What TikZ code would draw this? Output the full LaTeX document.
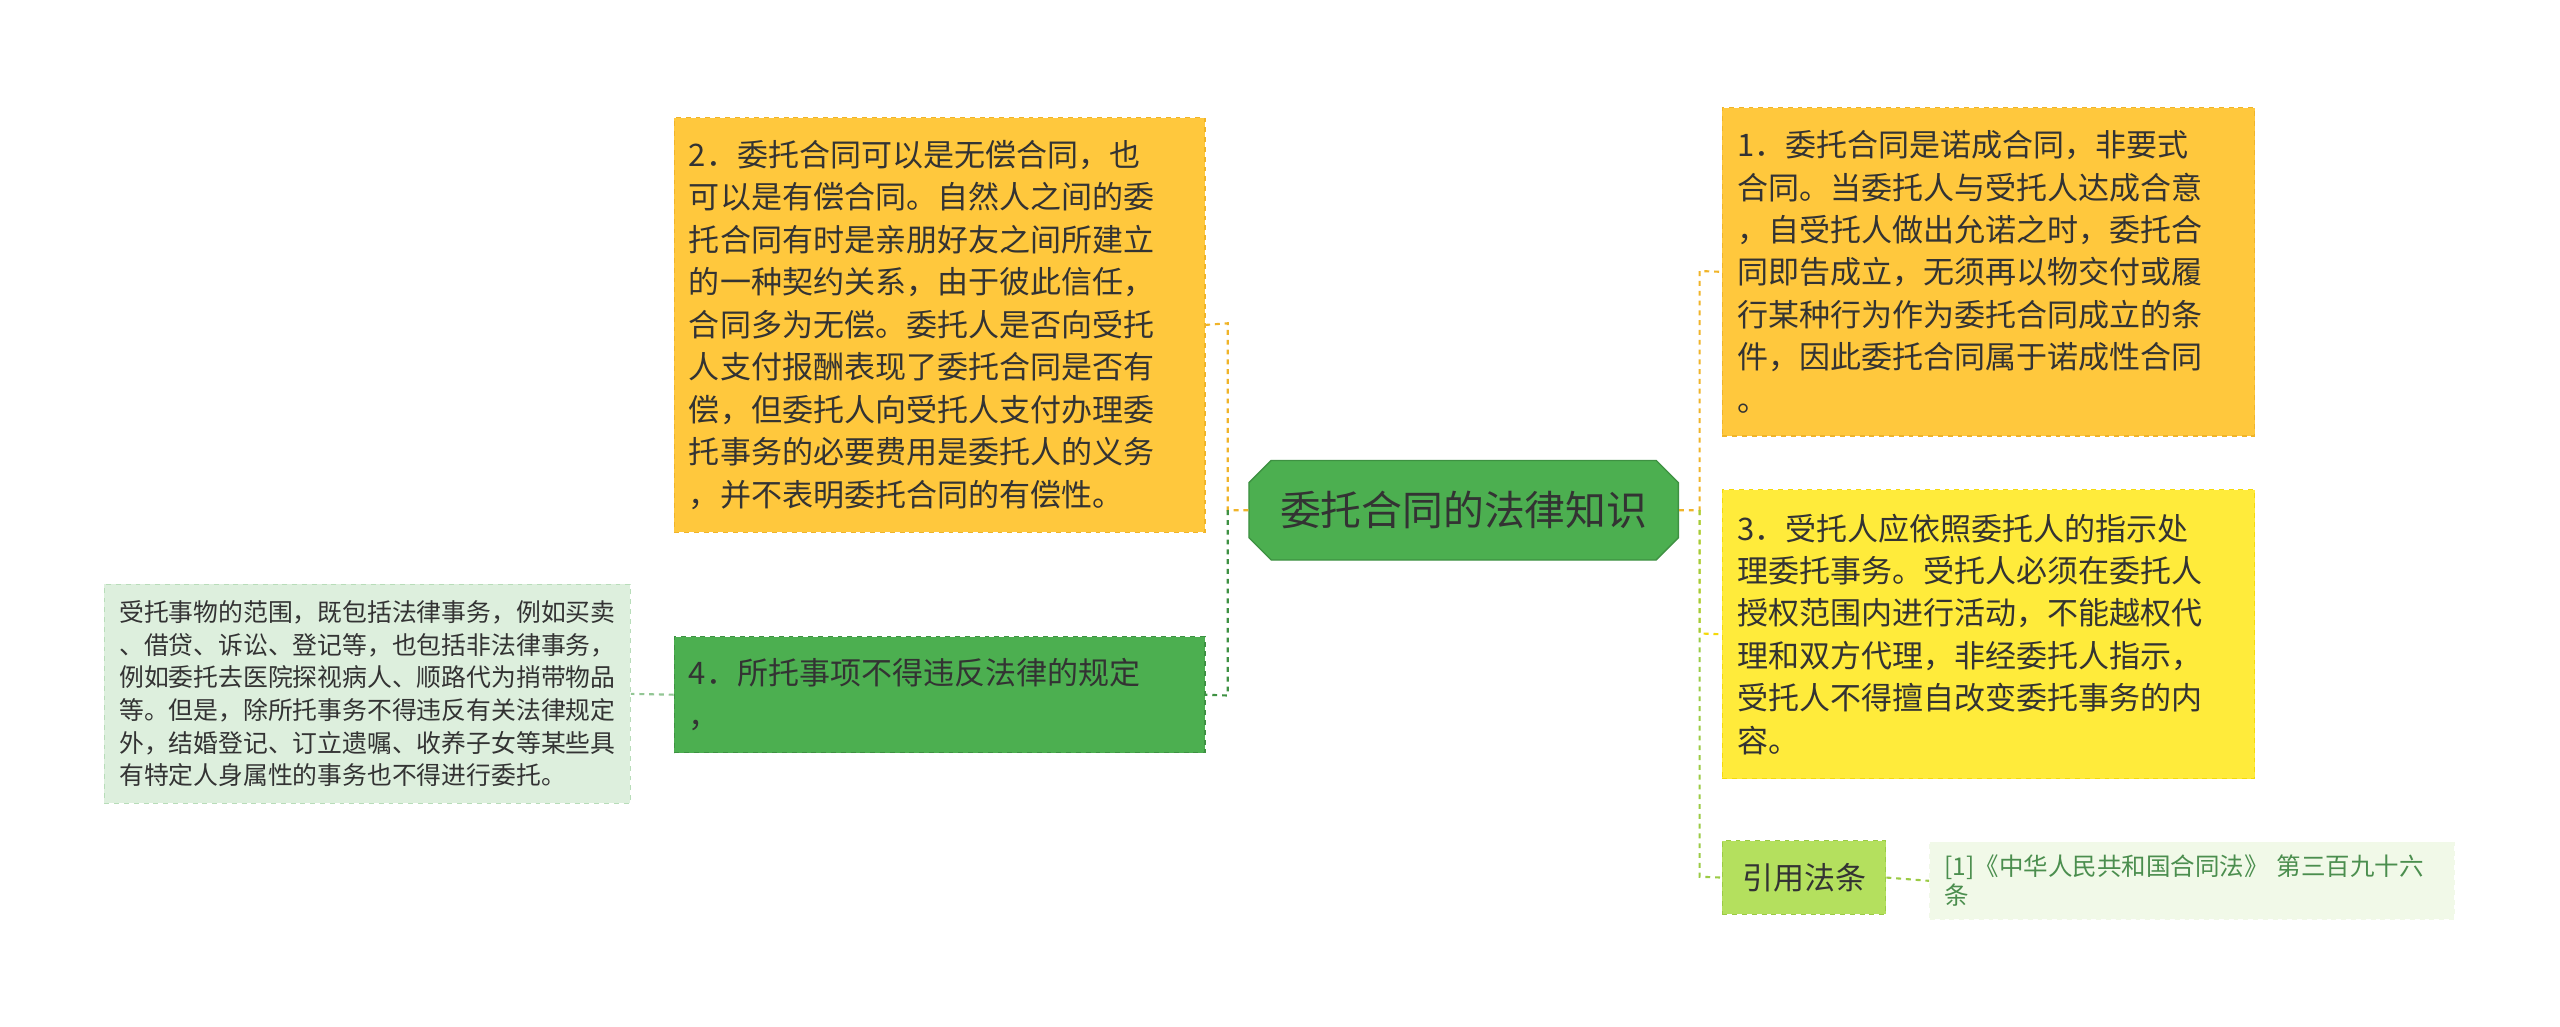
\documentclass[tikz,border=0pt]{standalone}
\usepackage{fontspec}
\setmainfont{Noto Sans CJK SC}
\usetikzlibrary{shapes.misc}
\definecolor{org}{HTML}{FFC83D}
\definecolor{orgd}{HTML}{F0B429}
\definecolor{yel}{HTML}{FFEB3B}
\definecolor{yeld}{HTML}{F5D90A}
\definecolor{grn}{HTML}{4CAF50}
\definecolor{grnd}{HTML}{3E9142}
\definecolor{lg}{HTML}{DDEFDD}
\definecolor{lgd}{HTML}{B8DDB9}
\definecolor{lime}{HTML}{B4E05E}
\definecolor{limed}{HTML}{9BCB45}
\definecolor{pale}{HTML}{F1F9E8}
\definecolor{txt}{HTML}{333333}
\begin{document}
\begin{tikzpicture}[x=1pt,y=-1pt,
 box/.style={draw,dashed,line width=0.8pt,inner xsep=9pt,inner ysep=0pt,text=txt,align=left,anchor=center},
 big/.style={font=\fontsize{19}{26}\selectfont},
 link/.style={dashed,line width=1.3pt}]
\useasboundingbox[fill=white] (0,0) rectangle (1568,629);
\node[box,fill=grn,draw=grnd,solid,chamfered rectangle,chamfered rectangle xsep=10pt,inner xsep=4pt,minimum width=263,minimum height=61,font=\fontsize{25}{28}\selectfont] (c) at (896.5,312.5) {委托合同的法律知识};
\node[box,big,fill=org,draw=orgd,minimum width=325,minimum height=254,text width=307] (n2) at (575.5,199) {2．委托合同可以是无偿合同，也\\可以是有偿合同。自然人之间的委\\托合同有时是亲朋好友之间所建立\\的一种契约关系，由于彼此信任，\\合同多为无偿。委托人是否向受托\\人支付报酬表现了委托合同是否有\\偿，但委托人向受托人支付办理委\\托事务的必要费用是委托人的义务\\，并不表明委托合同的有偿性。};
\node[box,big,fill=grn,draw=grnd,minimum width=325,minimum height=71,text width=307] (n4) at (575.5,425.5) {4．所托事项不得违反法律的规定\\，};
\node[box,fill=lg,draw=lgd,minimum width=320,minimum height=134,text width=304,font=\fontsize{15.2}{20}\selectfont] (d) at (225,425) {受托事物的范围，既包括法律事务，例如买卖\\、借贷、诉讼、登记等，也包括非法律事务，\\例如委托去医院探视病人、顺路代为捎带物品\\等。但是，除所托事务不得违反有关法律规定\\外，结婚登记、订立遗嘱、收养子女等某些具\\有特定人身属性的事务也不得进行委托。};
\node[box,big,fill=org,draw=orgd,minimum width=326,minimum height=201,text width=308] (n1) at (1218,166.5) {1．委托合同是诺成合同，非要式\\合同。当委托人与受托人达成合意\\，自受托人做出允诺之时，委托合\\同即告成立，无须再以物交付或履\\行某种行为作为委托合同成立的条\\件，因此委托合同属于诺成性合同\\。};
\node[box,big,fill=yel,draw=yeld,minimum width=326,minimum height=177,text width=308] (n3) at (1218,388.5) {3．受托人应依照委托人的指示处\\理委托事务。受托人必须在委托人\\授权范围内进行活动，不能越权代\\理和双方代理，非经委托人指示，\\受托人不得擅自改变委托事务的内\\容。};
\node[box,big,fill=lime,draw=limed,minimum width=100,minimum height=45] (ref) at (1105,537.5) {引用法条};
\node[box,fill=pale,draw=pale,minimum width=321,minimum height=47,text width=303,text=grnd!80!gray,font=\fontsize{15}{18}\selectfont] (law) at (1342.5,539.5) {[1]《中华人民共和国合同法》 第三百九十六\\条};
% left connectors
\coordinate (lj) at (752,312.5);
\draw[link,draw=orgd] (c.west) -- (lj) -- (752,198) -- (n2.east);
\draw[link,draw=grnd] (lj) -- (752,426) -- (n4.east);
\draw[link,draw=lgd!70!grnd] (n4.west) -- (d.east);
% right connectors
\coordinate (rj) at (1041,312.5);
\draw[link,draw=orgd] (c.east) -- (rj) -- (1041,166) -- (n1.west);
\draw[link,draw=yeld] (rj) -- (1041,388) -- (n3.west);
\draw[link,draw=limed] (rj) -- (1041,537) -- (ref.west);
\draw[link,draw=limed] (ref.east) -- (law.west);
\end{tikzpicture}
\end{document}
